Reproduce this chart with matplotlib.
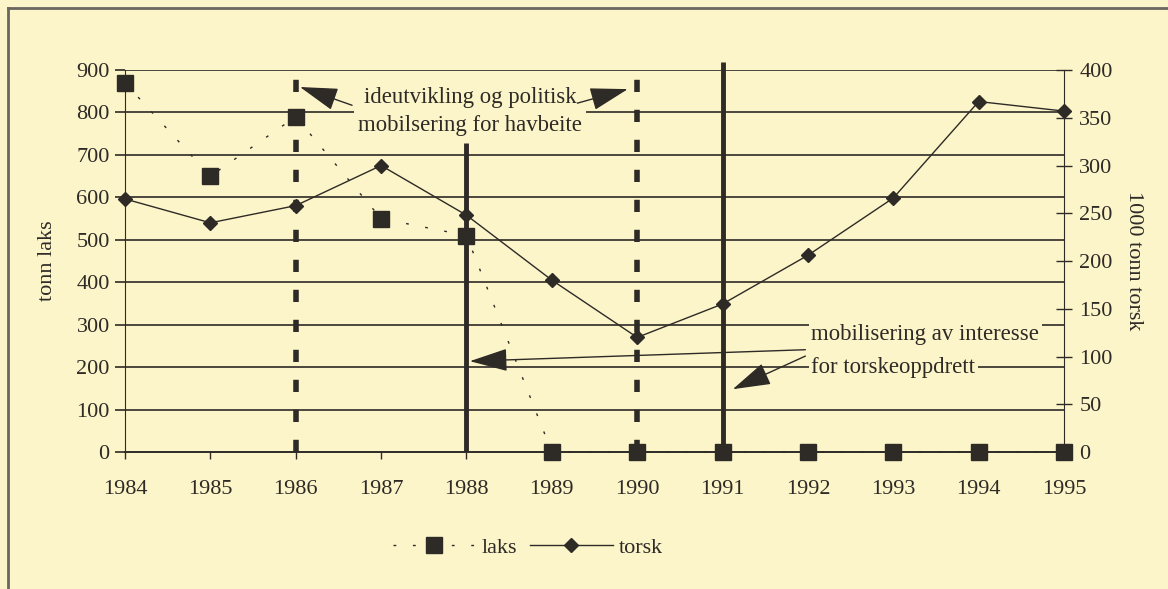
import matplotlib

matplotlib.use("Agg")
import matplotlib.pyplot as plt
from matplotlib.lines import Line2D

# Data
years = [1984, 1985, 1986, 1987, 1988, 1989, 1990, 1991, 1992, 1993, 1994, 1995]
laks = [870, 650, 790, 550, 510, 0, 0, 0, 0, 0, 0, 0]            # tonn laks (left)
torsk = [265, 240, 258, 300, 248, 180, 120, 155, 206, 266, 367, 357]  # 1000 tonn torsk (right)

left_ticks = list(range(0, 901, 100))
right_ticks = list(range(0, 401, 50))

BG = "#fcf5c9"
INK = "#2e2a26"

plt.rcParams["font.family"] = ["Liberation Serif", "DejaVu Serif"]
plt.rcParams["font.size"] = 16

fig = plt.figure(figsize=(11.68, 5.89), dpi=100, facecolor=BG)
ax = fig.add_axes([0.107, 0.2326, 0.804, 0.6485])
ax.set_facecolor(BG)

ax.set_xlim(1984, 1995)
ax.set_ylim(0, 900)
ax.set_xticks(years)
ax.set_yticks(left_ticks)
for y in left_ticks[1:]:
    ax.axhline(y, color=INK, lw=1.2, zorder=1)

for s in ["top", "right"]:
    ax.spines[s].set_visible(False)
ax.spines["left"].set_color(INK)
ax.spines["left"].set_linewidth(0.8)
ax.spines["bottom"].set_color(INK)
ax.spines["bottom"].set_linewidth(1.4)
ax.tick_params(axis="y", length=7, width=1.2, color=INK, pad=4, labelcolor=INK)
ax.tick_params(axis="x", length=5, width=1.0, color=INK, pad=15, labelcolor=INK)
ax.set_ylabel("tonn laks", color=INK, labelpad=14)

# milestone lines
ax.plot([1986, 1986], [0, 900], color=INK, lw=4, ls=(0, (2.2, 3.2)), zorder=2)
ax.plot([1990, 1990], [0, 900], color=INK, lw=4, ls=(0, (2.2, 3.2)), zorder=2)
ax.plot([1988, 1988], [0, 728], color=INK, lw=3.5, zorder=2, solid_capstyle="butt")
ax.plot([1991, 1991], [0, 920], color=INK, lw=3.5, zorder=2, clip_on=False,
        solid_capstyle="butt")

ax2 = ax.twinx()
ax2.set_ylim(0, 400)
ax2.set_yticks(right_ticks)
for s in ["top", "left", "bottom"]:
    ax2.spines[s].set_visible(False)
ax2.spines["right"].set_color(INK)
ax2.spines["right"].set_linewidth(0.8)
ax2.tick_params(axis="y", direction="inout", length=12, width=1.0, color=INK,
                pad=5, labelcolor=INK)
ax2.set_ylabel("1000 tonn torsk", rotation=270, color=INK, labelpad=22)

# series
laks_line, = ax.plot(years, laks, color=INK, lw=1.0, ls=(0, (2, 12)), marker="s",
                     markersize=11, markerfacecolor=INK, markeredgecolor=INK,
                     clip_on=False, zorder=5)
torsk_line, = ax2.plot(years, torsk, color=INK, lw=1.0, marker="D", markersize=7,
                       markerfacecolor=INK, markeredgecolor=INK, clip_on=False,
                       zorder=5)

arrow = dict(arrowstyle="-|>,head_length=1.5,head_width=0.45", color=INK, lw=1.0,
             mutation_scale=16, shrinkA=0, shrinkB=0)

ax.text(1988.04, 802, "ideutvikling og politisk\nmobilsering for havbeite",
        ha="center", va="center", color=INK, fontsize=16.4, linespacing=1.45,
        zorder=6, bbox=dict(facecolor=BG, edgecolor="none", pad=3))
ax.annotate("", xy=(1986.05, 860), xytext=(1986.66, 817), arrowprops=arrow, zorder=7)
ax.annotate("", xy=(1989.89, 855), xytext=(1989.3, 822), arrowprops=arrow, zorder=7)

ax.text(1992.04, 276, "mobilisering av interesse", ha="left", va="center",
        color=INK, fontsize=16.4, zorder=6,
        bbox=dict(facecolor=BG, edgecolor="none", pad=2))
ax.text(1992.04, 199, "for torskeoppdrett", ha="left", va="center",
        color=INK, fontsize=16.4, zorder=6,
        bbox=dict(facecolor=BG, edgecolor="none", pad=2))
ax.annotate("", xy=(1988.04, 214), xytext=(1991.97, 241), arrowprops=arrow, zorder=7)
ax.annotate("", xy=(1991.12, 148), xytext=(1991.97, 226), arrowprops=arrow, zorder=7)

fig.legend([laks_line, torsk_line], ["laks", "torsk"], loc="center",
           bbox_to_anchor=(0.452, 0.07), ncol=2, frameon=False, handlelength=3.7,
           columnspacing=0.6, handletextpad=0.3, labelcolor=INK)

# page frame from the scan
fig.add_artist(Line2D([0.007, 0.007], [0, 0.986], color="#6b6660", lw=2,
                      transform=fig.transFigure))
fig.add_artist(Line2D([0.007, 1], [0.986, 0.986], color="#6b6660", lw=2,
                      transform=fig.transFigure))

fig.savefig("out.png", dpi=100, facecolor=BG)
